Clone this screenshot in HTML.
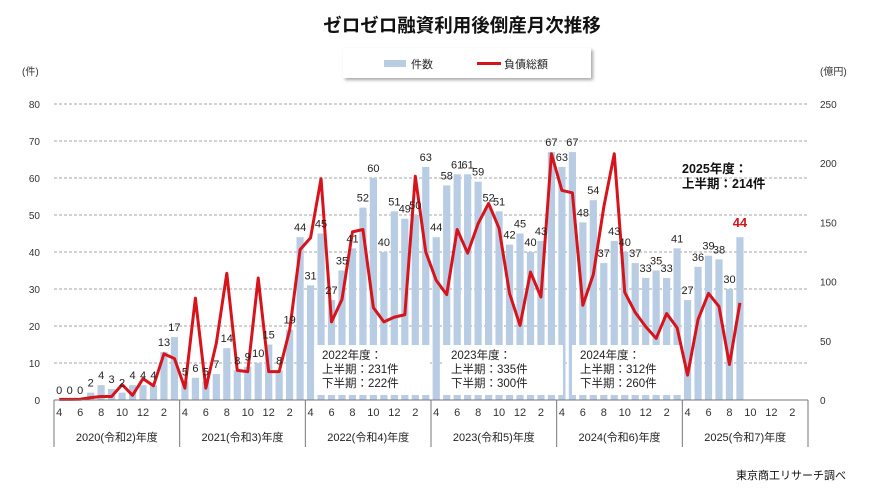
<!DOCTYPE html>
<html><head><meta charset="utf-8"><style>
body{margin:0;background:#fff;}
svg{display:block;font-family:"Liberation Sans","Noto Sans CJK JP",sans-serif;}
</style></head><body>
<svg id="c" width="877" height="495" viewBox="0 0 877 495">
<defs><filter id="sh" x="-10%" y="-10%" width="130%" height="140%"><feDropShadow dx="2" dy="2" stdDeviation="1.5" flood-color="#000" flood-opacity="0.35"/></filter></defs>
<text x="462" y="32" text-anchor="middle" font-size="18.5" font-weight="bold" fill="#111">ゼロゼロ融資利用後倒産月次推移</text>
<g>
<rect x="343" y="48" width="248" height="30" fill="#fff" filter="url(#sh)"/>
<rect x="384" y="60" width="22" height="7" fill="#b8cce4"/>
<text x="411" y="68" font-size="11" fill="#222">件数</text>
<line x1="477" y1="63.5" x2="501" y2="63.5" stroke="#d7141b" stroke-width="3"/>
<text x="504" y="68" font-size="11" fill="#222">負債総額</text>
</g>
<text x="22" y="75" font-size="10" fill="#333">(件)</text>
<text x="820" y="75" font-size="10" fill="#333">(億円)</text>
<g id="grid"></g><g id="bars"></g><g id="boxes"></g><g id="line"></g><g id="labels"></g><g id="axis"></g>
<text x="846" y="479" text-anchor="end" font-size="11" fill="#111">東京商工リサーチ調べ</text>
</svg>
<script>
const counts=[0,0,0,2,4,3,2,4,4,4,13,17, 5,6,5,7,14,8,9,10,15,8,19,44, 31,45,27,35,41,52,60,40,51,49,50,63, 44,58,61,61,59,52,51,42,45,40,43,67, 63,67,48,54,37,43,40,37,33,35,33,41, 27,36,39,38,30,44];
const debt=[0.5,0.5,0.6,2,3,3,13,4,18,12,39,35, 10,86,10,48,107,25,24,103,24,24,59,127, 137,187,66,85,142,144,78,66,70,72,189,125, 101,89,144,124,149,166,145,90,63,108,87,208, 177,175,80,106,163,208,91,74,62,52,73,61, 21,68,90,79,30,82];
const monthTicks=["4","6","8","10","12","2"];
const years=["2020(令和2)年度","2021(令和3)年度","2022(令和4)年度","2023(令和5)年度","2024(令和6)年度","2025(令和7)年度"];
const leftTicks=[0,10,20,30,40,50,60,70,80];
const rightTicks=[0,50,100,150,200,250];
const NS="http://www.w3.org/2000/svg";
const X0=54,X1=808,Y0=400,Y1=104,N=72,mw=(X1-X0)/N;
const xc=i=>X0+mw*(i+0.5);
const yl=v=>Y0-(v/80)*(Y0-Y1);
const yr=v=>Y0-(v/250)*(Y0-Y1);
function mk(p,t,a,txt){const e=document.createElementNS(NS,t);for(const k in a)e.setAttribute(k,a[k]);if(txt!=null)e.textContent=txt;document.getElementById(p).appendChild(e);return e;}
leftTicks.forEach(v=>{
 if(v>0){const g=mk('grid','line',{x1:X0,x2:X1,y1:yl(v),y2:yl(v),stroke:'#888','stroke-dasharray':'3,2','stroke-width':0.8});
 
 }
 const t=mk('axis','text',{x:40,y:yl(v)+4,'text-anchor':'end','font-size':10,fill:'#333'},v);
 
 
});
rightTicks.forEach(v=>{
 const t=mk('axis','text',{x:820,y:yr(v)+4,'font-size':10,fill:'#333'},v);
 
 
});
counts.forEach((v,i)=>{
 const b=mk('bars','rect',{x:xc(i)-3.6,y:yl(v),width:7.2,height:Y0-yl(v),fill:'#b8cce4'});
 
 
 const last=i===counts.length-1;
 const t=mk('labels','text',{x:xc(i),y:yl(v)-(last?10:6),'text-anchor':'middle','font-size':last?13:11,'font-weight':last?'bold':'normal',fill:last?'#d7141b':'#222'},v);
 
 
});
const boxes=[[314,345,116,50,"2022年度：","上半期：231件","下半期：222件"],[443,345,120,50,"2023年度：","上半期：335件","下半期：300件"],[572,345,112,50,"2024年度：","上半期：312件","下半期：260件"]];
boxes.forEach(b=>{
 const r=mk('boxes','rect',{x:b[0],y:b[1],width:b[2],height:b[3],fill:'#fff'});
 
 
 [4,5,6].forEach((k,j)=>{const t=mk('boxes','text',{x:b[0]+8,y:b[1]+14+j*14,'font-size':11.5,fill:'#222'},b[k]);
 
 });
});
const t25a=mk('labels','text',{x:682,y:173,'font-size':12.5,'font-weight':'bold',fill:'#111'},"2025年度：");


const t25b=mk('labels','text',{x:682,y:188,'font-size':12.5,'font-weight':'bold',fill:'#111'},"上半期：214件");


const pl=mk('line','polyline',{points:debt.map((v,i)=>xc(i)+','+yr(v)).join(' '),fill:'none',stroke:'#d7141b','stroke-width':3,'stroke-linejoin':'round'});


const ax=mk('axis','line',{x1:X0,x2:X1,y1:Y0,y2:Y0,stroke:'#777'});


for(let y=0;y<=6;y++){
 const sx=X0+y*12*mw;
 const s=mk('axis','line',{x1:sx,x2:sx,y1:Y0,y2:447,stroke:'#777'});
 
 
 if(y<6){
  monthTicks.forEach((m,k)=>{const t=mk('axis','text',{x:xc(y*12+k*2),y:416,'text-anchor':'middle','font-size':11,fill:'#333'},m);
  
  });
  const t=mk('axis','text',{x:sx+6*mw,y:441,'text-anchor':'middle','font-size':11,fill:'#222'},years[y]);
  
  
 }
}
</script>
</body></html>
